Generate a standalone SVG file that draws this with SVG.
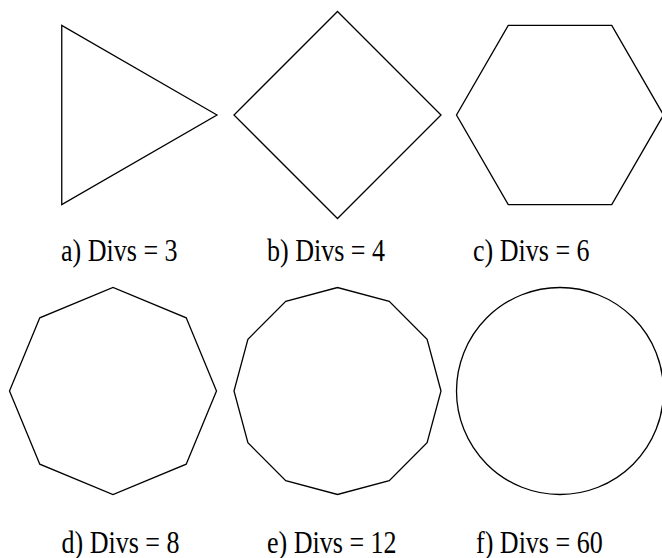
<svg xmlns="http://www.w3.org/2000/svg" width="662" height="558" viewBox="0 0 662 558">
<style>
.shape{fill:none;stroke:#000;stroke-width:1.3;stroke-linejoin:miter}
.lbl{font-family:"Liberation Serif","Times New Roman",serif;font-size:31px;fill:#000}
</style>
<rect width="662" height="558" fill="#fff"/>
<g id="divs3">
<polygon class="shape" points="217,115 61.75,25.4 61.75,204.6"/>
<text class="lbl" transform="translate(61,261) scale(0.84,1)">a) Divs = 3</text>
</g>
<g id="divs4">
<polygon class="shape" points="441,115 337.5,11.5 234,115 337.5,218.5"/>
<text class="lbl" transform="translate(267,261) scale(0.84,1)">b) Divs = 4</text>
</g>
<g id="divs6">
<polygon class="shape" points="663.5,115 611.75,25.4 508.25,25.4 456.5,115 508.25,204.6 611.75,204.6"/>
<text class="lbl" transform="translate(473,261) scale(0.84,1)">c) Divs = 6</text>
</g>
<g id="divs8">
<polygon class="shape" points="216.5,391 186.2,317.8 113,287.5 39.8,317.8 9.5,391 39.8,464.2 113,494.5 186.2,464.2"/>
<text class="lbl" transform="translate(61.5,553) scale(0.84,1)">d) Divs = 8</text>
</g>
<g id="divs12">
<polygon class="shape" points="441,391 427.1,339.25 389.25,301.4 337.5,287.5 285.75,301.4 247.9,339.25 234,391 247.9,442.75 285.75,480.6 337.5,494.5 389.25,480.6 427.1,442.75"/>
<text class="lbl" transform="translate(267,553) scale(0.84,1)">e) Divs = 12</text>
</g>
<g id="divs60">
<circle class="shape" cx="560" cy="391" r="103.5"/>
<text class="lbl" transform="translate(476,553) scale(0.84,1)">f) Divs = 60</text>
</g>
</svg>
